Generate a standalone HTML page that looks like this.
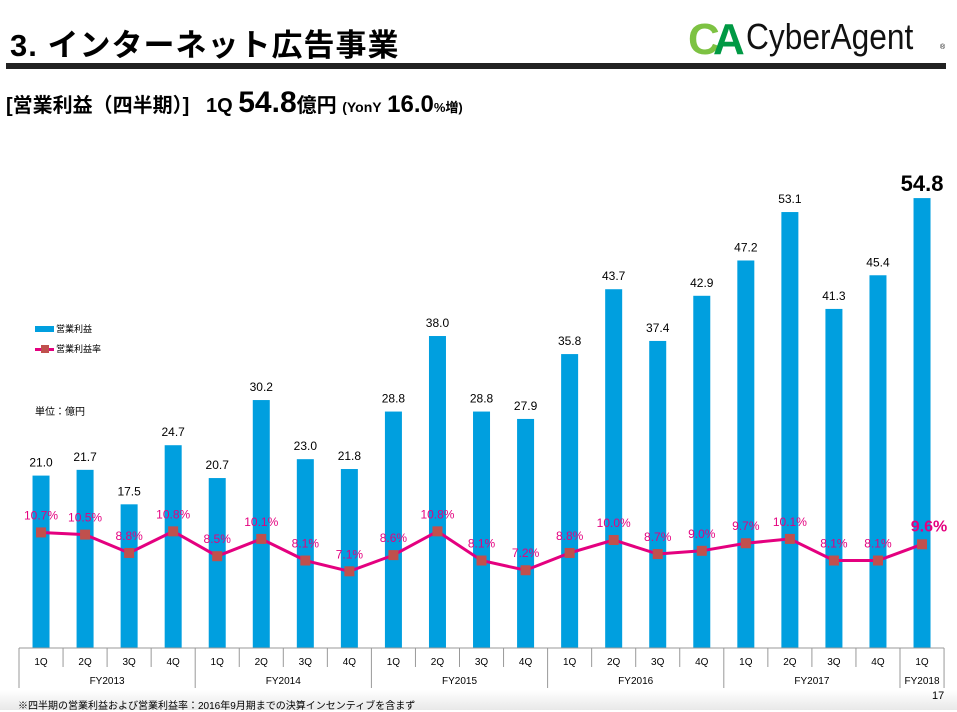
<!DOCTYPE html>
<html><head><meta charset="utf-8">
<style>
body{margin:0;width:957px;height:710px;overflow:hidden;background:#fff;font-family:"Liberation Sans","Noto Sans CJK JP",sans-serif;position:relative}
.a{position:absolute;white-space:nowrap}
</style></head><body>
<div class="a" style="left:0;top:690px;width:957px;height:20px;background:linear-gradient(#fff,#e8e8e8)"></div>
<div class="a" style="left:10px;top:20px;font-size:31px;font-weight:bold;letter-spacing:1px">3.&nbsp;インターネット広告事業</div>
<div class="a" style="left:6px;top:63px;width:940px;height:6px;background:#222"></div>
<div class="a" style="left:688px;top:12px;height:48px">
<svg width="70" height="48"><text x="0" y="42" font-size="44" font-weight="bold" fill="#7dc242" font-family="Liberation Sans">C</text><text x="25" y="42" font-size="44" font-weight="bold" fill="#009944" font-family="Liberation Sans">A</text></svg>
<span style="position:absolute;left:58px;top:4px;font-size:36px;color:#111;transform:scaleX(0.88);transform-origin:left">CyberAgent</span><span style="position:absolute;left:252px;top:32px;font-size:7px">®</span></div>
<div class="a" style="left:6px;top:86px;font-size:20px;font-weight:bold">[営業利益（四半期）]&nbsp;&nbsp;&nbsp;1Q <span style="font-size:30px">54.8</span>億円 <span style="font-size:14px">(YonY</span> <span style="font-size:24px">16.0</span><span style="font-size:13px">%増)</span></div>
<div class="a" style="left:35px;top:322px;font-size:9px"><span style="display:inline-block;width:19px;height:6px;background:#009fdf;margin-right:2px"></span>営業利益</div>
<div class="a" style="left:35px;top:342px;font-size:9px"><span style="display:inline-block;width:19px;height:3px;background:#e4007f;vertical-align:middle;position:relative;margin-right:2px"><span style="position:absolute;left:6px;top:-3px;width:8px;height:8px;background:#c0504d"></span></span>営業利益率</div>
<div class="a" style="left:35px;top:403px;font-size:10px">単位：億円</div>
<svg id="c" class="a" style="left:0;top:0" width="957" height="710"></svg>
<div class="a" style="left:18px;top:697px;font-size:10px">※四半期の営業利益および営業利益率：2016年9月期までの決算インセンティブを含まず</div>
<div class="a" style="left:932px;top:690px;font-size:11px">17</div>
<script>
const quarters=["1Q","2Q","3Q","4Q","1Q","2Q","3Q","4Q","1Q","2Q","3Q","4Q","1Q","2Q","3Q","4Q","1Q","2Q","3Q","4Q","1Q"];
const years=["FY2013","FY2014","FY2015","FY2016","FY2017","FY2018"];
const profit=[21.0,21.7,17.5,24.7,20.7,30.2,23.0,21.8,28.8,38.0,28.8,27.9,35.8,43.7,37.4,42.9,47.2,53.1,41.3,45.4,54.8];
const margin=[10.7,10.5,8.8,10.8,8.5,10.1,8.1,7.1,8.6,10.8,8.1,7.2,8.8,10.0,8.7,9.0,9.7,10.1,8.1,8.1,9.6];
const svg=document.getElementById('c');const NS="http://www.w3.org/2000/svg";
const x0=19,cw=44.05,base=648;
const xc=i=>x0+cw*(i+0.5);
const yv=v=>base-v*8.21;
const yp=p=>base-p*10.8;
function el(t,a){const e=document.createElementNS(NS,t);for(const k in a)e.setAttribute(k,a[k]);svg.appendChild(e);return e;}
profit.forEach((v,i)=>{
 const r=el('rect',{x:xc(i)-8.5,y:yv(v),width:17,height:base-yv(v),fill:'#009fdf'});
 
 
 const last=i===profit.length-1;
 const t=el('text',{x:xc(i),y:yv(v)-(last?7:9),'text-anchor':'middle','font-size':last?22:12,'font-weight':last?'bold':'normal','font-family':'Liberation Sans'});
 t.textContent=v.toFixed(1);
 
 
});
const pts=margin.map((p,i)=>xc(i)+','+yp(p)).join(' ');
const pl=el('polyline',{points:pts,fill:'none',stroke:'#e4007f','stroke-width':3});


margin.forEach((p,i)=>{
 const m=el('rect',{x:xc(i)-5,y:yp(p)-5,width:10,height:10,fill:'#c0504d'});
 
 
 const last=i===margin.length-1;
 const t=el('text',{x:xc(i)+(last?7:0),y:yp(p)-(last?13:13),'text-anchor':'middle','font-size':last?16:12,'font-weight':last?'bold':'normal',fill:'#e4007f','font-family':'Liberation Sans'});
 t.textContent=p.toFixed(1)+'%';
 
 
});
el('line',{x1:x0,y1:base,x2:x0+cw*21,y2:base,stroke:'#999','stroke-width':1});
for(let i=0;i<=21;i++){const x=x0+cw*i;el('line',{x1:x,y1:base,x2:x,y2:(i%4===0||i===21)?688:667,stroke:'#999','stroke-width':1});}
quarters.forEach((q,i)=>{const t=el('text',{x:xc(i),y:665,'text-anchor':'middle','font-size':10,'font-family':'Liberation Sans'});t.textContent=q;
 
 });
years.forEach((y,j)=>{const n=j<5?4:1;const t=el('text',{x:x0+cw*(j*4+n/2),y:684,'text-anchor':'middle','font-size':10,'font-family':'Liberation Sans'});t.textContent=y;
 
 });
</script>
</body></html>
